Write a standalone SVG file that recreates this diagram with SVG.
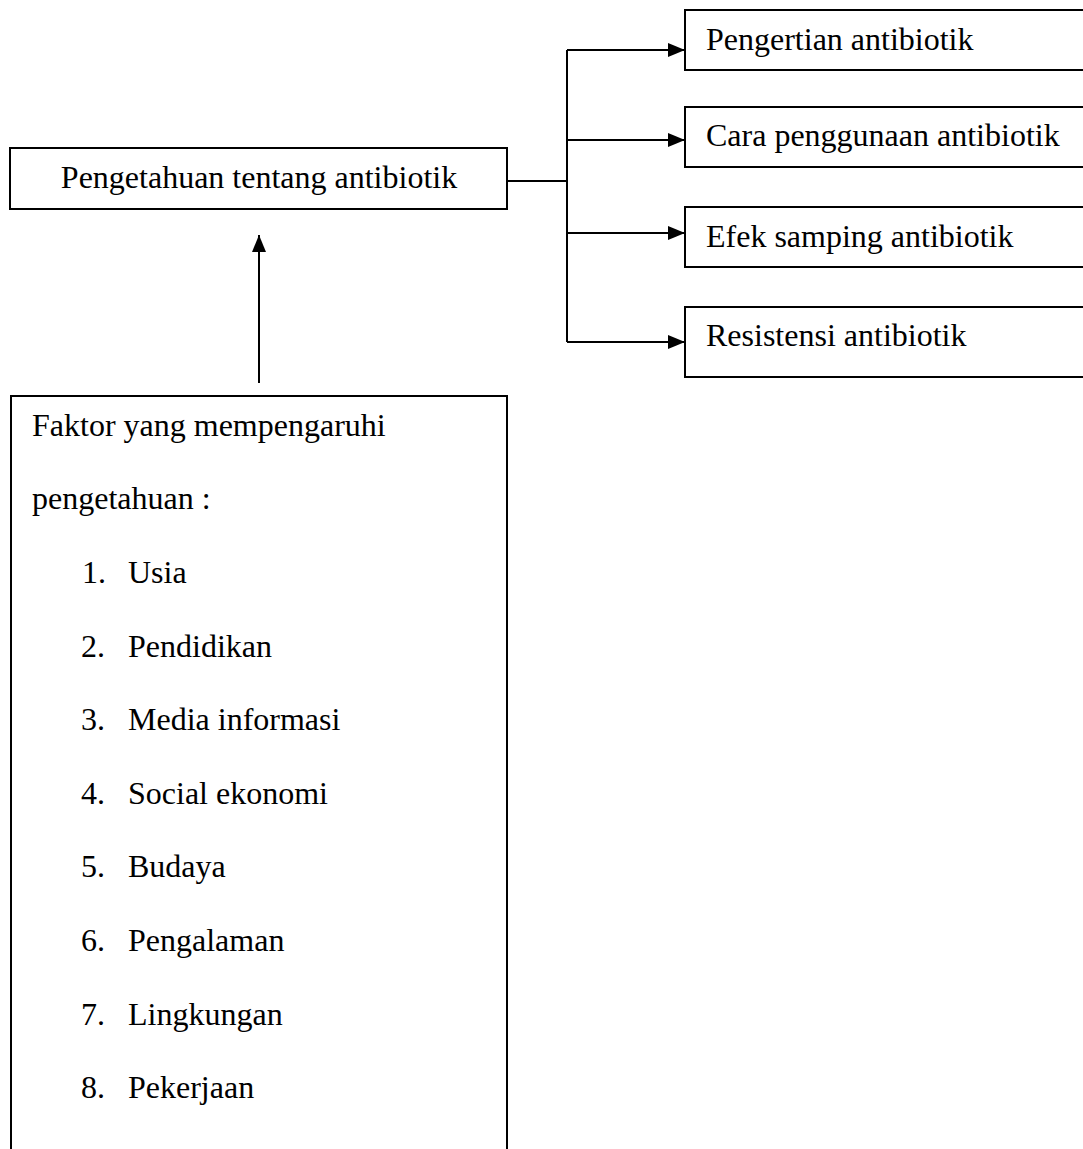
<svg xmlns="http://www.w3.org/2000/svg" width="1083" height="1149" viewBox="0 0 1083 1149">
<style>
.box{fill:#fff;stroke:#000;stroke-width:2}
.t{font-family:"Liberation Serif","Times New Roman",serif;font-size:32px;fill:#000}
.ln{fill:none;stroke:#000;stroke-width:2}
</style>
<defs>
<marker id="ah" markerUnits="userSpaceOnUse" markerWidth="18" markerHeight="18" viewBox="0 0 18 18" refX="17" refY="9" orient="auto">
<path d="M0,2 L17,9 L0,16 Z" fill="#000"/>
</marker>
</defs>
<rect width="1083" height="1149" fill="#fff"/>
<g id="connectors">
<path class="ln" d="M507,181 H567"/>
<path class="ln" d="M567,50 V342"/>
<path class="ln" d="M567,50 H685" marker-end="url(#ah)"/>
<path class="ln" d="M567,140 H685" marker-end="url(#ah)"/>
<path class="ln" d="M567,233 H685" marker-end="url(#ah)"/>
<path class="ln" d="M567,342 H685" marker-end="url(#ah)"/>
<path class="ln" d="M259,383 V235" marker-end="url(#ah)"/>
</g>
<g id="node-main">
<rect class="box" x="10" y="148" width="497" height="61"/>
<text class="t" x="259" y="188" text-anchor="middle">Pengetahuan tentang antibiotik</text>
</g>
<g id="node-pengertian">
<rect class="box" x="685" y="10" width="410" height="60"/>
<text class="t" x="706" y="50">Pengertian antibiotik</text>
</g>
<g id="node-cara">
<rect class="box" x="685" y="107" width="410" height="60"/>
<text class="t" x="706" y="146">Cara penggunaan antibiotik</text>
</g>
<g id="node-efek">
<rect class="box" x="685" y="207" width="410" height="60"/>
<text class="t" x="706" y="247">Efek samping antibiotik</text>
</g>
<g id="node-resistensi">
<rect class="box" x="685" y="307" width="410" height="70"/>
<text class="t" x="706" y="346">Resistensi antibiotik</text>
</g>
<g id="node-faktor">
<rect class="box" x="11" y="396" width="496" height="780"/>
<text class="t" x="32" y="436">Faktor yang mempengaruhi</text>
<text class="t" x="32" y="509">pengetahuan :</text>
<text class="t" x="82" y="583">1.</text><text class="t" x="128" y="583">Usia</text>
<text class="t" x="81" y="657">2.</text><text class="t" x="128" y="657">Pendidikan</text>
<text class="t" x="81" y="730">3.</text><text class="t" x="128" y="730">Media informasi</text>
<text class="t" x="81" y="804">4.</text><text class="t" x="128" y="804">Social ekonomi</text>
<text class="t" x="81" y="877">5.</text><text class="t" x="128" y="877">Budaya</text>
<text class="t" x="81" y="951">6.</text><text class="t" x="128" y="951">Pengalaman</text>
<text class="t" x="81" y="1025">7.</text><text class="t" x="128" y="1025">Lingkungan</text>
<text class="t" x="81" y="1098">8.</text><text class="t" x="128" y="1098">Pekerjaan</text>
</g>
</svg>
